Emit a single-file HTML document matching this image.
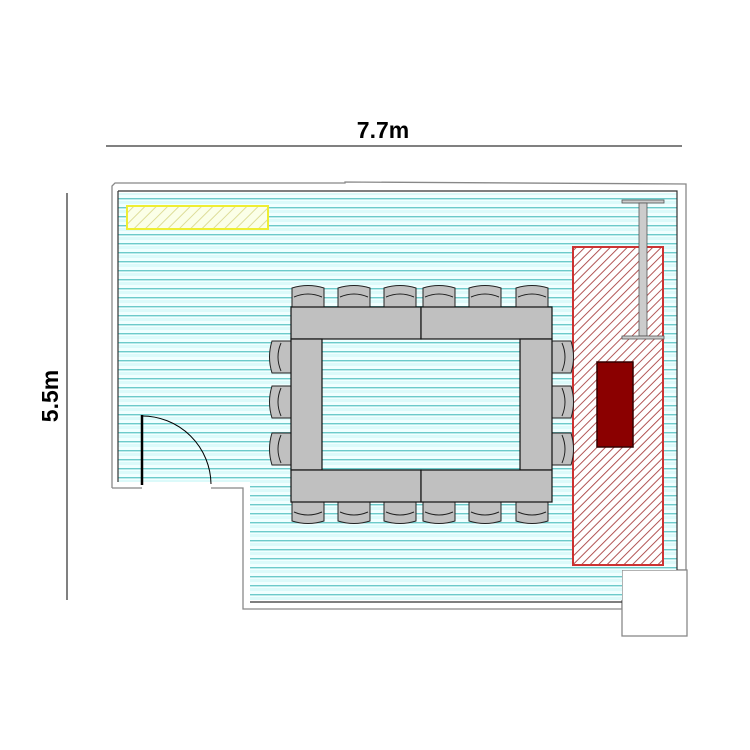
<!DOCTYPE html>
<html><head><style>html,body{margin:0;padding:0;background:#fff}svg{display:block}</style></head>
<body>
<svg width="750" height="750" xmlns="http://www.w3.org/2000/svg">
<defs>
<pattern id="fl" width="10" height="9" patternUnits="userSpaceOnUse">
<rect width="10" height="9" fill="#f0ffff"/>
<rect y="3" width="10" height="3" fill="#dcfafa"/>
<rect y="0" width="10" height="1.4" fill="#6ccaca"/>
</pattern>
<pattern id="rh" width="6" height="6" patternUnits="userSpaceOnUse" patternTransform="rotate(45)">
<rect width="6" height="6" fill="#fff"/>
<rect width="0.9" height="6" fill="#a44"/>
</pattern>
<pattern id="yh" width="8" height="8" patternUnits="userSpaceOnUse" patternTransform="rotate(45)">
<rect width="8" height="8" fill="#fbffe8"/>
<rect width="1" height="8" fill="#dd9"/>
</pattern>
<g id="ct"><path d="M1,22 L1,3 Q17,-2 33,3 L33,22 Z" fill="#c0c0c0" stroke="#222" stroke-width="1"/><path d="M3,12 Q17,6 31,12" fill="none" stroke="#222"/></g>
<g id="cb"><path d="M1,0 L1,19 Q17,24 33,19 L33,0 Z" fill="#c0c0c0" stroke="#222" stroke-width="1"/><path d="M3,10 Q17,16 31,10" fill="none" stroke="#222"/></g>
<g id="cl"><path d="M22,1 L3,1 Q-2,17 3,33 L22,33 Z" fill="#c0c0c0" stroke="#222"/><path d="M12,3 Q6,17 12,31" fill="none" stroke="#222"/></g>
<g id="cr"><path d="M0,1 L19,1 Q24,17 19,33 L0,33 Z" fill="#c0c0c0" stroke="#222"/><path d="M10,3 Q16,17 10,31" fill="none" stroke="#222"/></g>
</defs>
<!-- dimensions -->
<line x1="106" y1="146" x2="682" y2="146" stroke="#000" stroke-width="1"/>
<text x="383" y="138" font-family="Liberation Sans, sans-serif" font-size="23" font-weight="bold" text-anchor="middle" fill="#000">7.7m</text>
<line x1="67" y1="193" x2="67" y2="600" stroke="#000" stroke-width="1"/>
<text x="0" y="0" transform="translate(58,396) rotate(-90)" font-family="Liberation Sans, sans-serif" font-size="23" font-weight="bold" text-anchor="middle" fill="#000">5.5m</text>
<!-- outer wall -->
<path d="M112,488 L112,186 L115,183 L345,183 L345,182 L686,184 L686,570 L622,570 L622,609 L243,609 L243,488 L211,488 M142,488 L112,488" fill="none" stroke="#888" stroke-width="1.3"/>
<rect x="622" y="570" width="65" height="66" fill="#fff" stroke="#888" stroke-width="1.3"/>
<!-- floor -->
<path d="M118,193 L677,193 L677,570 L622,570 L622,600 L250,600 L250,482 L118,482 Z" fill="url(#fl)"/>
<rect x="142" y="482" width="69" height="6" fill="#fff"/>
<path d="M118,191 L677,191 L677,570 M622,602 L250,602 M118,191 L118,482" fill="none" stroke="#333" stroke-width="1.2"/>
<!-- door -->
<line x1="142" y1="415" x2="142" y2="485" stroke="#000" stroke-width="2.5"/>
<path d="M142,416 A69,69 0 0 1 211,484" fill="none" stroke="#000" stroke-width="1"/>
<!-- yellow box -->
<rect x="127" y="206" width="141" height="23" fill="url(#yh)" stroke="#ee3" stroke-width="2"/>
<!-- red area -->
<rect x="573" y="247" width="90" height="318" fill="url(#rh)" stroke="#c33" stroke-width="2"/>
<rect x="597" y="362" width="36" height="85" fill="#8b0000" stroke="#300" stroke-width="1.5"/>
<!-- stand -->
<rect x="622" y="200" width="42" height="3" fill="#ccc" stroke="#555" stroke-width="0.8"/>
<rect x="639" y="203" width="8" height="133" fill="#ccc" stroke="#555" stroke-width="0.8"/>
<rect x="622" y="336" width="42" height="3" fill="#ccc" stroke="#555" stroke-width="0.8"/>
<!-- chairs -->
<use href="#ct" x="291" y="285"/><use href="#ct" x="337" y="285"/><use href="#ct" x="383" y="285"/>
<use href="#ct" x="422" y="285"/><use href="#ct" x="468" y="285"/><use href="#ct" x="515" y="285"/>
<use href="#cb" x="291" y="502"/><use href="#cb" x="337" y="502"/><use href="#cb" x="383" y="502"/>
<use href="#cb" x="422" y="502"/><use href="#cb" x="468" y="502"/><use href="#cb" x="515" y="502"/>
<use href="#cl" x="269" y="340"/><use href="#cl" x="269" y="385"/><use href="#cl" x="269" y="432"/>
<use href="#cr" x="552" y="340"/><use href="#cr" x="552" y="385"/><use href="#cr" x="552" y="432"/>
<!-- table -->
<g fill="#c0c0c0" stroke="#111" stroke-width="1.2">
<rect x="291" y="307" width="130" height="32"/>
<rect x="421" y="307" width="131" height="32"/>
<rect x="291" y="339" width="31" height="131"/>
<rect x="520" y="339" width="32" height="131"/>
<rect x="291" y="470" width="130" height="32"/>
<rect x="421" y="470" width="131" height="32"/>
</g>
</svg>
</body></html>
